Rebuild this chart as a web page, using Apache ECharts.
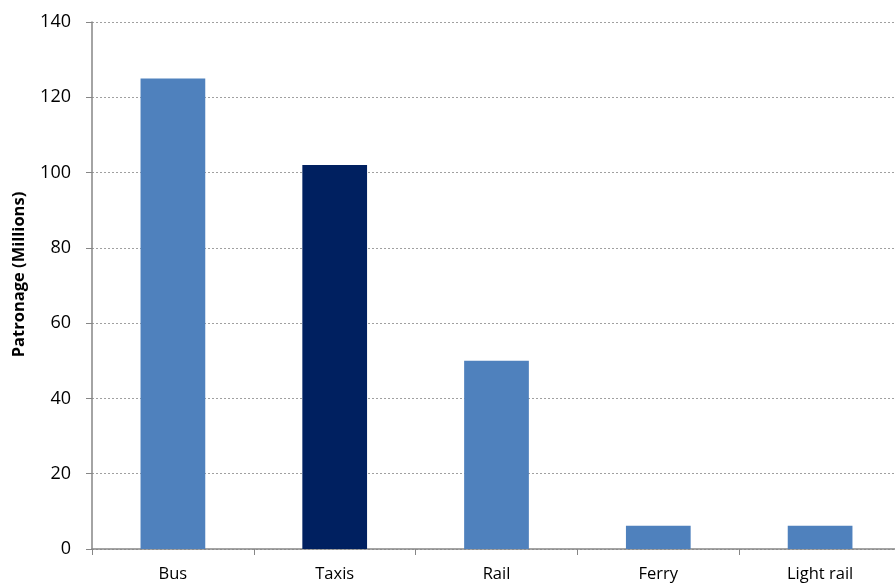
<!DOCTYPE html>
<html>
<head>
<meta charset="utf-8">
<script src="https://cdn.jsdelivr.net/npm/echarts@6/dist/echarts.min.js"></script>
<style>
html, body { margin: 0; padding: 0; background: #fff; overflow: hidden; }
#main { width: 901px; height: 588px; }
</style>
</head>
<body>
<div id="main"></div>
<script>
var categories = ['Bus', 'Taxis', 'Rail', 'Ferry', 'Light rail'];
var patronage = [125, 102, 50, 6.2, 6.2];
var barColors = ['#4F81BD', '#002060', '#4F81BD', '#4F81BD', '#4F81BD'];

var chart = echarts.init(document.getElementById('main'));
chart.setOption({
    animation: false,
    textStyle: { fontFamily: '"Open Sans", sans-serif' },
    grid: { left: 92, right: 0, top: 22, bottom: 39, containLabel: false },
    xAxis: {
        type: 'category',
        data: categories,
        axisLine: { lineStyle: { color: '#868686', width: 1.5 } },
        axisTick: { show: true, length: 6, lineStyle: { color: '#868686' } },
        axisLabel: { color: '#000', fontSize: 16.5, margin: 17 }
    },
    yAxis: {
        type: 'value',
        min: 0,
        max: 140,
        interval: 20,
        name: 'Patronage (Millions)',
        nameLocation: 'middle',
        nameGap: 64,
        nameTextStyle: { color: '#000', fontSize: 16.5, fontWeight: 'bold', padding: [0, 0, 0, 22] },
        axisLine: { show: true, lineStyle: { color: '#868686', width: 1.5 } },
        axisTick: { show: true, length: 6, lineStyle: { color: '#868686' } },
        axisLabel: { color: '#000', fontSize: 18, margin: 21 },
        splitLine: { lineStyle: { color: '#a0a0a0', type: [2, 2] } }
    },
    series: [{
        type: 'bar',
        data: patronage.map(function (v, i) {
            return { value: v, itemStyle: { color: barColors[i] } };
        }),
        barWidth: '40%'
    }]
});
</script>
</body>
</html>
